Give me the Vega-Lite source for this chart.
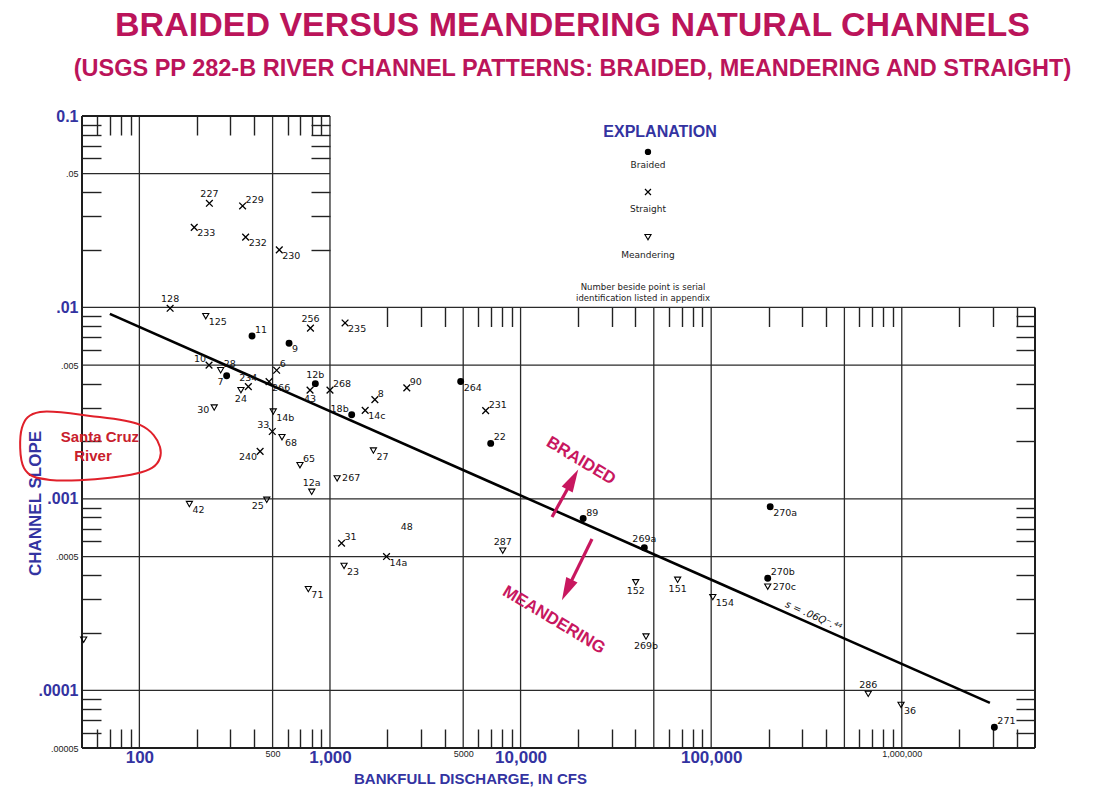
{
  "$schema": "https://vega.github.io/schema/vega-lite/v6.json",
  "width": 953,
  "height": 632,
  "autosize": {"type": "none"},
  "padding": {"left": 82, "top": 116, "right": 59, "bottom": 45},
  "background": "white",
  "config": {"view": {"stroke": null}, "font": "Liberation Sans"},
  "title": {
    "text": "BRAIDED VERSUS MEANDERING NATURAL CHANNELS",
    "subtitle": "(USGS PP 282-B RIVER CHANNEL PATTERNS: BRAIDED, MEANDERING AND STRAIGHT)",
    "anchor": "middle",
    "dx": 14,
    "offset": 28,
    "font": "Liberation Sans",
    "fontSize": 34,
    "fontWeight": "bold",
    "color": "#bb145a",
    "subtitleFont": "Liberation Sans",
    "subtitleFontSize": 23.5,
    "subtitleFontWeight": "bold",
    "subtitleColor": "#bb145a",
    "subtitlePadding": 14
  },
  "resolve": {"axis": {"x": "independent", "y": "independent"}},
  "datasets": {
    "grid": [
      {"kind": "grid", "x1": 50, "x2": 1000, "y1": 0.05, "y2": 0.05},
      {"kind": "grid", "x1": 50, "x2": 5000000, "y1": 0.01, "y2": 0.01},
      {"kind": "grid", "x1": 50, "x2": 5000000, "y1": 0.005, "y2": 0.005},
      {"kind": "grid", "x1": 50, "x2": 5000000, "y1": 0.001, "y2": 0.001},
      {"kind": "grid", "x1": 50, "x2": 5000000, "y1": 0.0005, "y2": 0.0005},
      {"kind": "grid", "x1": 50, "x2": 5000000, "y1": 0.0001, "y2": 0.0001},
      {"kind": "grid", "x1": 100, "x2": 100, "y1": 0.00005, "y2": 0.1},
      {"kind": "grid", "x1": 500, "x2": 500, "y1": 0.00005, "y2": 0.1},
      {"kind": "grid", "x1": 1000, "x2": 1000, "y1": 0.00005, "y2": 0.1},
      {"kind": "grid", "x1": 5000, "x2": 5000, "y1": 0.00005, "y2": 0.01},
      {"kind": "grid", "x1": 10000, "x2": 10000, "y1": 0.00005, "y2": 0.01},
      {"kind": "grid", "x1": 50000, "x2": 50000, "y1": 0.00005, "y2": 0.01},
      {"kind": "grid", "x1": 100000, "x2": 100000, "y1": 0.00005, "y2": 0.01},
      {"kind": "grid", "x1": 500000, "x2": 500000, "y1": 0.00005, "y2": 0.01},
      {"kind": "grid", "x1": 1000000, "x2": 1000000, "y1": 0.00005, "y2": 0.01},
      {"kind": "frame", "x1": 50, "x2": 1000, "y1": 0.1, "y2": 0.1},
      {"kind": "frame", "x1": 50, "x2": 5000000, "y1": 0.00005, "y2": 0.00005},
      {"kind": "frame", "x1": 50, "x2": 50, "y1": 0.00005, "y2": 0.1},
      {"kind": "frame", "x1": 5000000, "x2": 5000000, "y1": 0.00005, "y2": 0.01}
    ],
    "pts": [
      {"id": "128", "Q": 145, "S": 0.0099, "type": "Straight", "lab": "N"},
      {"id": "125", "Q": 223, "S": 0.009, "type": "Meandering", "lab": "SE"},
      {"id": "256", "Q": 790, "S": 0.0078, "type": "Straight", "lab": "N"},
      {"id": "235", "Q": 1200, "S": 0.0083, "type": "Straight", "lab": "SE"},
      {"id": "11", "Q": 390, "S": 0.0071, "type": "Braided", "lab": "NE"},
      {"id": "9", "Q": 610, "S": 0.0065, "type": "Braided", "lab": "SE"},
      {"id": "10", "Q": 232, "S": 0.005, "type": "Straight", "lab": "NW"},
      {"id": "28", "Q": 267, "S": 0.0047, "type": "Meandering", "lab": "NE"},
      {"id": "7", "Q": 287, "S": 0.0044, "type": "Braided", "lab": "SW"},
      {"id": "6", "Q": 525, "S": 0.0047, "type": "Straight", "lab": "NE"},
      {"id": "234", "Q": 373, "S": 0.00386, "type": "Straight", "lab": "N"},
      {"id": "24", "Q": 341, "S": 0.0037, "type": "Meandering", "lab": "S"},
      {"id": "266", "Q": 479, "S": 0.0041, "type": "Straight", "lab": "SE"},
      {"id": "12b", "Q": 838, "S": 0.004, "type": "Braided", "lab": "N"},
      {"id": "43", "Q": 786, "S": 0.0037, "type": "Straight", "lab": "S"},
      {"id": "268", "Q": 1000, "S": 0.0037, "type": "Straight", "lab": "NE"},
      {"id": "90", "Q": 2530, "S": 0.0038, "type": "Straight", "lab": "NE"},
      {"id": "264", "Q": 4850, "S": 0.0041, "type": "Braided", "lab": "SE"},
      {"id": "30", "Q": 247, "S": 0.003, "type": "Meandering", "lab": "W"},
      {"id": "18b", "Q": 1300, "S": 0.00275, "type": "Braided", "lab": "NW"},
      {"id": "14c", "Q": 1530, "S": 0.0029, "type": "Straight", "lab": "SE"},
      {"id": "8", "Q": 1720, "S": 0.0033, "type": "Straight", "lab": "NE"},
      {"id": "14b", "Q": 504, "S": 0.00286, "type": "Meandering", "lab": "SE"},
      {"id": "33", "Q": 498, "S": 0.00225, "type": "Straight", "lab": "NW"},
      {"id": "68", "Q": 560, "S": 0.0021, "type": "Meandering", "lab": "SE"},
      {"id": "27", "Q": 1690, "S": 0.00179, "type": "Meandering", "lab": "SE"},
      {"id": "240", "Q": 430, "S": 0.00177, "type": "Straight", "lab": "SW"},
      {"id": "65", "Q": 696, "S": 0.0015, "type": "Meandering", "lab": "NE"},
      {"id": "267", "Q": 1090, "S": 0.00128, "type": "Meandering", "lab": "E"},
      {"id": "12a", "Q": 802, "S": 0.00109, "type": "Meandering", "lab": "N"},
      {"id": "42", "Q": 183, "S": 0.00094, "type": "Meandering", "lab": "SE"},
      {"id": "25", "Q": 466, "S": 0.00099, "type": "Meandering", "lab": "SW"},
      {"id": "231", "Q": 6560, "S": 0.00289, "type": "Straight", "lab": "NE"},
      {"id": "22", "Q": 6970, "S": 0.00195, "type": "Braided", "lab": "NE"},
      {"id": "89", "Q": 21300, "S": 0.00079, "type": "Braided", "lab": "NE"},
      {"id": "269a", "Q": 44600, "S": 0.000556, "type": "Braided", "lab": "N"},
      {"id": "287", "Q": 8060, "S": 0.000537, "type": "Meandering", "lab": "N"},
      {"id": "31", "Q": 1150, "S": 0.000587, "type": "Straight", "lab": "NE"},
      {"id": "14a", "Q": 1980, "S": 0.0005, "type": "Straight", "lab": "SE"},
      {"id": "23", "Q": 1185, "S": 0.000447, "type": "Meandering", "lab": "SE"},
      {"id": "71", "Q": 770, "S": 0.000338, "type": "Meandering", "lab": "SE"},
      {"id": "", "Q": 51, "S": 0.000184, "type": "Meandering", "lab": "none"},
      {"id": "152", "Q": 40200, "S": 0.000367, "type": "Meandering", "lab": "S"},
      {"id": "151", "Q": 66700, "S": 0.000378, "type": "Meandering", "lab": "S"},
      {"id": "154", "Q": 102000, "S": 0.000307, "type": "Meandering", "lab": "SE"},
      {"id": "269b", "Q": 45500, "S": 0.000191, "type": "Meandering", "lab": "S"},
      {"id": "270a", "Q": 204000, "S": 0.00091, "type": "Braided", "lab": "SE"},
      {"id": "270b", "Q": 198000, "S": 0.000385, "type": "Braided", "lab": "NE"},
      {"id": "270c", "Q": 198000, "S": 0.000348, "type": "Meandering", "lab": "E"},
      {"id": "286", "Q": 667000, "S": 0.0000959, "type": "Meandering", "lab": "N"},
      {"id": "36", "Q": 991000, "S": 0.000084, "type": "Meandering", "lab": "SE"},
      {"id": "271", "Q": 3060000, "S": 0.0000642, "type": "Braided", "lab": "NE"},
      {"id": "227", "Q": 233, "S": 0.035, "type": "Straight", "lab": "N"},
      {"id": "229", "Q": 348, "S": 0.0339, "type": "Straight", "lab": "NE"},
      {"id": "233", "Q": 194, "S": 0.0262, "type": "Straight", "lab": "SE"},
      {"id": "232", "Q": 361, "S": 0.0233, "type": "Straight", "lab": "SE"},
      {"id": "230", "Q": 542, "S": 0.02, "type": "Straight", "lab": "SE"},
      {"id": "48", "Q": 2530, "S": 0.00071, "type": "None", "lab": "C"}
    ],
    "fit": [
      {"Q": 70, "S": 0.009258},
      {"Q": 2900000, "S": 0.000086}
    ],
    "arrows": [
      {"arrow": "up", "Q": 14620, "S": 0.000805},
      {"arrow": "up", "Q": 18770, "S": 0.001263},
      {"arrow": "down", "Q": 23700, "S": 0.000618},
      {"arrow": "down", "Q": 17500, "S": 0.000334}
    ],
    "heads": [
      {"dir": "up", "Q": 18770, "S": 0.001263},
      {"dir": "down", "Q": 17500, "S": 0.000334}
    ],
    "zones": [
      {"txt": "BRAIDED", "Q": 20750, "S": 0.001579},
      {"txt": "MEANDERING", "Q": 14970, "S": 0.000233}
    ],
    "key": [
      {"type": "Braided", "Q": 46600, "S": 0.0649, "txtS": 0.0555},
      {"type": "Straight", "Q": 46600, "S": 0.0401, "txtS": 0.0327},
      {"type": "Meandering", "Q": 46600, "S": 0.0233, "txtS": 0.0188}
    ],
    "keynotes": [
      {"txt": "Number beside point is serial", "Q": 43900, "S": 0.0128},
      {"txt": "identification listed in appendix", "Q": 43900, "S": 0.0112}
    ],
    "loop": [
      {"seq": 1, "Q": 24.2, "S": 0.00235},
      {"seq": 2, "Q": 30.1, "S": 0.002846},
      {"seq": 3, "Q": 55.1, "S": 0.002713},
      {"seq": 4, "Q": 100.8, "S": 0.002434},
      {"seq": 5, "Q": 128.3, "S": 0.001869},
      {"seq": 6, "Q": 116.5, "S": 0.001452},
      {"seq": 7, "Q": 70.1, "S": 0.001288},
      {"seq": 8, "Q": 34.0, "S": 0.001257},
      {"seq": 9, "Q": 24.8, "S": 0.001452}
    ],
    "river": [
      {"txt": "Santa Cruz", "Q": 62.1, "S": 0.00211},
      {"txt": "River", "Q": 57.1, "S": 0.001677}
    ]
  },
  "layer": [
    {
      "data": {"name": "grid"},
      "transform": [{"filter": "datum.kind == 'grid'"}],
      "mark": {"type": "rule", "color": "#2a2a2a", "strokeWidth": 1.3},
      "encoding": {
        "x": {
          "field": "x1", "type": "quantitative",
          "scale": {"type": "log", "domain": [50, 5000000], "nice": false},
          "axis": {
            "orient": "bottom",
            "values": [100, 500, 1000, 5000, 10000, 100000, 1000000],
            "labelExpr": "datum.value == 100 ? '100' : datum.value == 500 ? '500' : datum.value == 1000 ? '1,000' : datum.value == 5000 ? '5000' : datum.value == 10000 ? '10,000' : datum.value == 100000 ? '100,000' : '1,000,000'",
            "ticks": false, "domain": false, "grid": false,
            "labelPadding": 1,
            "labelFont": "Liberation Sans",
            "labelFontWeight": {"condition": {"test": "indexof([100, 1000, 10000, 100000], datum.value) >= 0", "value": "bold"}, "value": "normal"},
            "labelFontSize": {"condition": {"test": "indexof([100, 1000, 10000, 100000], datum.value) >= 0", "value": 17}, "value": 9},
            "labelColor": {"condition": {"test": "indexof([100, 1000, 10000, 100000], datum.value) >= 0", "value": "#3333a1"}, "value": "#222222"},
            "labelBaseline": "top",
            "labelOverlap": false,
            "title": "BANKFULL DISCHARGE, IN CFS",
            "titleFont": "Liberation Sans", "titleFontSize": 15, "titleFontWeight": "bold", "titleColor": "#3333a1",
            "titleX": 388, "titleY": 30, "titleAlign": "center", "titleBaseline": "middle", "titleAnchor": null
          }
        },
        "x2": {"field": "x2"},
        "y": {
          "field": "y1", "type": "quantitative",
          "scale": {"type": "log", "domain": [0.00005, 0.1], "nice": false},
          "axis": {
            "orient": "left",
            "values": [0.1, 0.05, 0.01, 0.005, 0.001, 0.0005, 0.0001, 0.00005],
            "labelExpr": "datum.value >= 0.1 ? '0.1' : replace(format(datum.value, '.5~f'), '0.', '.')",
            "ticks": false, "domain": false, "grid": false,
            "labelPadding": 4,
            "labelFont": "Liberation Sans",
            "labelFontWeight": {"condition": {"test": "indexof([0.1, 0.01, 0.001, 0.0001], datum.value) >= 0", "value": "bold"}, "value": "normal"},
            "labelFontSize": {"condition": {"test": "indexof([0.1, 0.01, 0.001, 0.0001], datum.value) >= 0", "value": 16}, "value": 9},
            "labelColor": {"condition": {"test": "indexof([0.1, 0.01, 0.001, 0.0001], datum.value) >= 0", "value": "#3333a1"}, "value": "#222222"},
            "labelOverlap": false,
            "title": "CHANNEL SLOPE",
            "titleFont": "Liberation Sans", "titleFontSize": 17, "titleFontWeight": "bold", "titleColor": "#3333a1",
            "titleAngle": 270, "titleX": -47, "titleY": 387, "titleAlign": "center", "titleBaseline": "middle", "titleAnchor": null
          }
        },
        "y2": {"field": "y2"}
      }
    },
    {
      "data": {"name": "grid"},
      "transform": [{"filter": "datum.kind == 'frame'"}],
      "mark": {"type": "rule", "color": "#1e1e1e", "strokeWidth": 2},
      "encoding": {
        "x": {
          "field": "x1", "type": "quantitative",
          "axis": {
            "orient": "bottom",
            "values": [60, 70, 80, 90, 200, 300, 400, 600, 700, 800, 900, 2000, 3000, 4000, 6000, 7000, 8000, 9000, 20000, 30000, 40000, 60000, 70000, 80000, 90000, 200000, 300000, 400000, 600000, 700000, 800000, 900000, 2000000, 3000000, 4000000],
            "labels": false, "domain": false, "grid": false,
            "tickSize": -19, "tickWidth": 1.4, "tickColor": "#222222", "title": null
          }
        },
        "x2": {"field": "x2"},
        "y": {
          "field": "y1", "type": "quantitative",
          "axis": {
            "orient": "left",
            "values": [0.09, 0.08, 0.07, 0.06, 0.04, 0.03, 0.02, 0.009, 0.008, 0.007, 0.006, 0.004, 0.003, 0.002, 0.0009, 0.0008, 0.0007, 0.0006, 0.0004, 0.0003, 0.0002, 0.00009, 0.00008, 0.00007, 0.00006],
            "labels": false, "domain": false, "grid": false,
            "tickSize": -19, "tickWidth": 1.4, "tickColor": "#222222", "title": null
          }
        },
        "y2": {"field": "y2"}
      }
    },
    {
      "data": {"name": "fit"},
      "mark": {"type": "line", "color": "#000000", "strokeWidth": 2.6},
      "encoding": {
        "x": {
          "field": "Q", "type": "quantitative",
          "axis": {
            "orient": "top",
            "values": [60, 70, 80, 90, 200, 300, 400, 600, 700, 800, 900],
            "labels": false, "domain": false, "grid": false,
            "tickSize": -19, "tickWidth": 1.4, "tickColor": "#222222", "title": null
          }
        },
        "y": {
          "field": "S", "type": "quantitative",
          "axis": {
            "orient": "right", "offset": -705,
            "values": [0.09, 0.08, 0.07, 0.06, 0.04, 0.03, 0.02],
            "labels": false, "domain": false, "grid": false,
            "tickSize": -19, "tickWidth": 1.4, "tickColor": "#222222", "title": null
          }
        }
      }
    },
    {
      "data": {"name": "pts"},
      "transform": [{"filter": "datum.type == 'Braided'"}],
      "mark": {"type": "point", "shape": "circle", "filled": true, "color": "#000000", "size": 48, "opacity": 1},
      "encoding": {
        "x": {
          "field": "Q", "type": "quantitative",
          "axis": {
            "orient": "top", "offset": -191.5,
            "values": [2000, 3000, 4000, 6000, 7000, 8000, 9000, 20000, 30000, 40000, 60000, 70000, 80000, 90000, 200000, 300000, 400000, 600000, 700000, 800000, 900000, 2000000, 3000000, 4000000],
            "labels": false, "domain": false, "grid": false,
            "tickSize": -19, "tickWidth": 1.4, "tickColor": "#222222", "title": null
          }
        },
        "y": {
          "field": "S", "type": "quantitative",
          "axis": {
            "orient": "right",
            "values": [0.009, 0.008, 0.007, 0.006, 0.004, 0.003, 0.002, 0.0009, 0.0008, 0.0007, 0.0006, 0.0004, 0.0003, 0.0002, 0.00009, 0.00008, 0.00007, 0.00006],
            "labels": false, "domain": false, "grid": false,
            "tickSize": -19, "tickWidth": 1.4, "tickColor": "#222222", "title": null
          }
        }
      }
    },
    {
      "data": {"name": "pts"},
      "transform": [{"filter": "datum.type == 'Straight'"}],
      "mark": {"type": "point", "shape": "M-1,-1L1,1M-1,1L1,-1", "filled": false, "color": "#000000", "strokeWidth": 1.3, "size": 45, "opacity": 1},
      "encoding": {
        "x": {"field": "Q", "type": "quantitative", "axis": null},
        "y": {"field": "S", "type": "quantitative", "axis": null}
      }
    },
    {
      "data": {"name": "pts"},
      "transform": [{"filter": "datum.type == 'Meandering'"}],
      "mark": {"type": "point", "shape": "triangle-down", "filled": false, "color": "#000000", "strokeWidth": 1.1, "size": 38, "opacity": 1},
      "encoding": {
        "x": {"field": "Q", "type": "quantitative", "axis": null},
        "y": {"field": "S", "type": "quantitative", "axis": null}
      }
    },
    {
      "data": {"name": "pts"},
      "transform": [{"filter": "datum.lab == 'N'"}],
      "mark": {"type": "text", "font": "DejaVu Sans", "fontSize": 9.5, "color": "#111111", "align": "center", "baseline": "bottom", "dy": -4},
      "encoding": {
        "x": {"field": "Q", "type": "quantitative", "axis": null},
        "y": {"field": "S", "type": "quantitative", "axis": null},
        "text": {"field": "id"}
      }
    },
    {
      "data": {"name": "pts"},
      "transform": [{"filter": "datum.lab == 'S'"}],
      "mark": {"type": "text", "font": "DejaVu Sans", "fontSize": 9.5, "color": "#111111", "align": "center", "baseline": "top", "dy": 4},
      "encoding": {
        "x": {"field": "Q", "type": "quantitative", "axis": null},
        "y": {"field": "S", "type": "quantitative", "axis": null},
        "text": {"field": "id"}
      }
    },
    {
      "data": {"name": "pts"},
      "transform": [{"filter": "datum.lab == 'E'"}],
      "mark": {"type": "text", "font": "DejaVu Sans", "fontSize": 9.5, "color": "#111111", "align": "left", "baseline": "middle", "dx": 5},
      "encoding": {
        "x": {"field": "Q", "type": "quantitative", "axis": null},
        "y": {"field": "S", "type": "quantitative", "axis": null},
        "text": {"field": "id"}
      }
    },
    {
      "data": {"name": "pts"},
      "transform": [{"filter": "datum.lab == 'W'"}],
      "mark": {"type": "text", "font": "DejaVu Sans", "fontSize": 9.5, "color": "#111111", "align": "right", "baseline": "middle", "dx": -5, "dy": 2},
      "encoding": {
        "x": {"field": "Q", "type": "quantitative", "axis": null},
        "y": {"field": "S", "type": "quantitative", "axis": null},
        "text": {"field": "id"}
      }
    },
    {
      "data": {"name": "pts"},
      "transform": [{"filter": "datum.lab == 'NE'"}],
      "mark": {"type": "text", "font": "DejaVu Sans", "fontSize": 9.5, "color": "#111111", "align": "left", "baseline": "bottom", "dx": 3, "dy": -1},
      "encoding": {
        "x": {"field": "Q", "type": "quantitative", "axis": null},
        "y": {"field": "S", "type": "quantitative", "axis": null},
        "text": {"field": "id"}
      }
    },
    {
      "data": {"name": "pts"},
      "transform": [{"filter": "datum.lab == 'SE'"}],
      "mark": {"type": "text", "font": "DejaVu Sans", "fontSize": 9.5, "color": "#111111", "align": "left", "baseline": "top", "dx": 3, "dy": 1},
      "encoding": {
        "x": {"field": "Q", "type": "quantitative", "axis": null},
        "y": {"field": "S", "type": "quantitative", "axis": null},
        "text": {"field": "id"}
      }
    },
    {
      "data": {"name": "pts"},
      "transform": [{"filter": "datum.lab == 'SW'"}],
      "mark": {"type": "text", "font": "DejaVu Sans", "fontSize": 9.5, "color": "#111111", "align": "right", "baseline": "top", "dx": -3, "dy": 1},
      "encoding": {
        "x": {"field": "Q", "type": "quantitative", "axis": null},
        "y": {"field": "S", "type": "quantitative", "axis": null},
        "text": {"field": "id"}
      }
    },
    {
      "data": {"name": "pts"},
      "transform": [{"filter": "datum.lab == 'NW'"}],
      "mark": {"type": "text", "font": "DejaVu Sans", "fontSize": 9.5, "color": "#111111", "align": "right", "baseline": "bottom", "dx": -3, "dy": -1},
      "encoding": {
        "x": {"field": "Q", "type": "quantitative", "axis": null},
        "y": {"field": "S", "type": "quantitative", "axis": null},
        "text": {"field": "id"}
      }
    },
    {
      "data": {"name": "pts"},
      "transform": [{"filter": "datum.lab == 'C'"}],
      "mark": {"type": "text", "font": "DejaVu Sans", "fontSize": 9.5, "color": "#111111", "align": "center", "baseline": "middle"},
      "encoding": {
        "x": {"field": "Q", "type": "quantitative", "axis": null},
        "y": {"field": "S", "type": "quantitative", "axis": null},
        "text": {"field": "id"}
      }
    },
    {
      "data": {"name": "fit"},
      "transform": [{"filter": "datum.Q == 70"}],
      "mark": {"type": "text", "font": "DejaVu Sans", "fontStyle": "italic", "fontSize": 10, "color": "#111111", "align": "center", "baseline": "bottom", "angle": 24, "dy": -3},
      "encoding": {
        "x": {"datum": 330000, "type": "quantitative", "axis": null},
        "y": {"datum": 0.000224, "type": "quantitative", "axis": null},
        "text": {"value": "s = .06Q⁻.⁴⁴"}
      }
    },
    {
      "data": {"name": "arrows"},
      "mark": {"type": "line", "color": "#c8175f", "strokeWidth": 3.2},
      "encoding": {
        "x": {"field": "Q", "type": "quantitative", "axis": null},
        "y": {"field": "S", "type": "quantitative", "axis": null},
        "detail": {"field": "arrow"}
      }
    },
    {
      "data": {"name": "heads"},
      "transform": [{"filter": "datum.dir == 'up'"}],
      "mark": {"type": "point", "shape": "M0,-1L0.55,1L-0.55,1Z", "filled": true, "color": "#c8175f", "size": 520, "angle": 29, "opacity": 1},
      "encoding": {
        "x": {"field": "Q", "type": "quantitative", "axis": null},
        "y": {"field": "S", "type": "quantitative", "axis": null}
      }
    },
    {
      "data": {"name": "heads"},
      "transform": [{"filter": "datum.dir == 'down'"}],
      "mark": {"type": "point", "shape": "M0,-1L0.55,1L-0.55,1Z", "filled": true, "color": "#c8175f", "size": 520, "angle": 206, "opacity": 1},
      "encoding": {
        "x": {"field": "Q", "type": "quantitative", "axis": null},
        "y": {"field": "S", "type": "quantitative", "axis": null}
      }
    },
    {
      "data": {"name": "zones"},
      "mark": {"type": "text", "font": "Liberation Sans", "fontWeight": "bold", "fontSize": 17, "color": "#c8175f", "align": "center", "baseline": "middle", "angle": 31},
      "encoding": {
        "x": {"field": "Q", "type": "quantitative", "axis": null},
        "y": {"field": "S", "type": "quantitative", "axis": null},
        "text": {"field": "txt"}
      }
    },
    {
      "data": {"name": "key"},
      "transform": [{"filter": "datum.type == 'Braided'"}],
      "mark": {"type": "point", "shape": "circle", "filled": true, "color": "#000000", "size": 40, "opacity": 1},
      "encoding": {
        "x": {"field": "Q", "type": "quantitative", "axis": null},
        "y": {"field": "S", "type": "quantitative", "axis": null}
      }
    },
    {
      "data": {"name": "key"},
      "transform": [{"filter": "datum.type == 'Straight'"}],
      "mark": {"type": "point", "shape": "M-1,-1L1,1M-1,1L1,-1", "filled": false, "color": "#000000", "strokeWidth": 1.2, "size": 36, "opacity": 1},
      "encoding": {
        "x": {"field": "Q", "type": "quantitative", "axis": null},
        "y": {"field": "S", "type": "quantitative", "axis": null}
      }
    },
    {
      "data": {"name": "key"},
      "transform": [{"filter": "datum.type == 'Meandering'"}],
      "mark": {"type": "point", "shape": "triangle-down", "filled": false, "color": "#000000", "strokeWidth": 1.1, "size": 38, "opacity": 1},
      "encoding": {
        "x": {"field": "Q", "type": "quantitative", "axis": null},
        "y": {"field": "S", "type": "quantitative", "axis": null}
      }
    },
    {
      "data": {"name": "key"},
      "mark": {"type": "text", "font": "DejaVu Sans", "fontSize": 9, "color": "#222222", "align": "center", "baseline": "middle"},
      "encoding": {
        "x": {"field": "Q", "type": "quantitative", "axis": null},
        "y": {"field": "txtS", "type": "quantitative", "axis": null},
        "text": {"field": "type"}
      }
    },
    {
      "data": {"name": "keynotes"},
      "mark": {"type": "text", "font": "DejaVu Sans", "fontSize": 8.5, "color": "#222222", "align": "center", "baseline": "middle"},
      "encoding": {
        "x": {"field": "Q", "type": "quantitative", "axis": null},
        "y": {"field": "S", "type": "quantitative", "axis": null},
        "text": {"field": "txt"}
      }
    },
    {
      "data": {"name": "keynotes"},
      "transform": [{"filter": "datum.S > 0.012"}],
      "mark": {"type": "text", "font": "Liberation Sans", "fontWeight": "bold", "fontSize": 16, "color": "#3333a1", "align": "center", "baseline": "middle"},
      "encoding": {
        "x": {"datum": 53900, "type": "quantitative", "axis": null},
        "y": {"datum": 0.0825, "type": "quantitative", "axis": null},
        "text": {"value": "EXPLANATION"}
      }
    },
    {
      "data": {"name": "loop"},
      "mark": {"type": "line", "interpolate": "cardinal-closed", "color": "#e0202a", "strokeWidth": 2},
      "encoding": {
        "x": {"field": "Q", "type": "quantitative", "axis": null},
        "y": {"field": "S", "type": "quantitative", "axis": null},
        "order": {"field": "seq"}
      }
    },
    {
      "data": {"name": "river"},
      "mark": {"type": "text", "font": "Liberation Sans", "fontWeight": "bold", "fontSize": 15, "color": "#c8202c", "align": "center", "baseline": "middle"},
      "encoding": {
        "x": {"field": "Q", "type": "quantitative", "axis": null},
        "y": {"field": "S", "type": "quantitative", "axis": null},
        "text": {"field": "txt"}
      }
    }
  ]
}
